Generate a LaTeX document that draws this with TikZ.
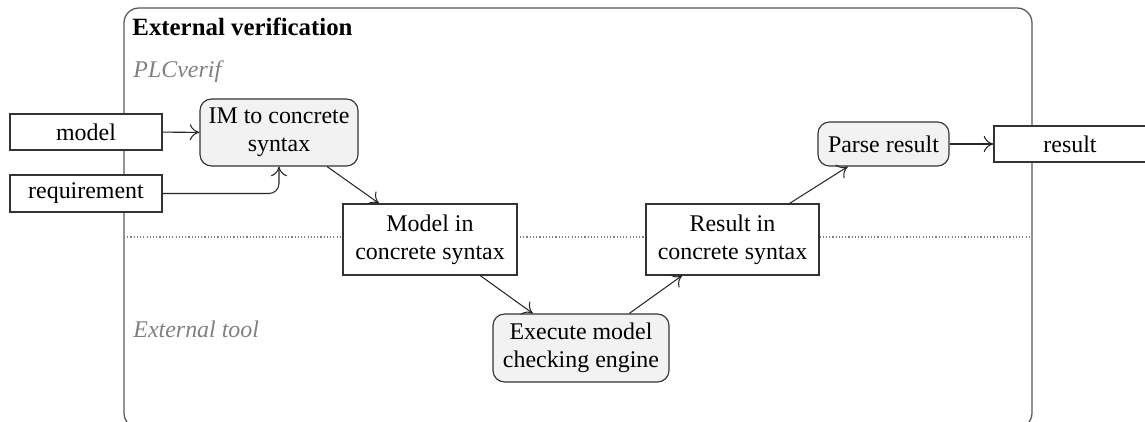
\documentclass[tikz,border=0pt]{standalone}
\usepackage{fontspec}
\setmainfont{Liberation Serif}
\usetikzlibrary{arrows.meta}
% one drawing unit
\def\u{0.4348pt}
\begin{document}
\begin{tikzpicture}[x=\u, y=-\u,
  txt/.style={font=\fontsize{10.4}{12}\selectfont},
  box/.style={txt, draw=black!80, line width=0.5pt, fill=white,
    inner sep=0pt, align=center},
  proc/.style={box, fill=black!5, rounded corners=5pt},
  arr/.style={draw=black!85, line width=0.45pt, -{To[length=4.2pt,width=7pt]}},
  lane/.style={txt, text=black!50, font=\fontsize{10.4}{12}\selectfont\itshape, anchor=base west, inner sep=0pt}
]
\useasboundingbox (0,0) rectangle (1145,421);
\begin{scope}
\clip (0,0) rectangle (1145,421);

% outer frame and lane separator
\draw[black!65, line width=0.55pt, rounded corners=6.5pt] (124,8) rectangle (1032,428);
\draw[black!50, line width=0.45pt, dash pattern=on 0.5pt off 0.9pt] (124,237) -- (1032,237);

\node[anchor=base west, inner sep=0pt, font=\fontsize{10.8}{12}\selectfont\bfseries] (title) at (132,35) {External verification};
\node[lane] (plc) at (133,77) {PLCverif};
\node[lane] (ext) at (133,337) {External tool};

% inputs and output
\node[box, minimum width=152*\u, minimum height=36*\u] (model) at (86,132) {model};
\node[box, minimum width=152*\u, minimum height=37*\u] (req) at (86,193.5) {requirement};
\node[box, minimum width=152*\u, minimum height=36*\u] (res) at (1070,144) {result};

% processing steps and artefacts
\node[proc, minimum width=158*\u, minimum height=67*\u] (im) at (279,132.5) {IM to concrete\\syntax};
\node[box, minimum width=174*\u, minimum height=71*\u] (mic) at (430,239.5) {Model in\\concrete syntax};
\node[proc, minimum width=176*\u, minimum height=68*\u] (exe) at (581,348) {Execute model\\checking engine};
\node[box, minimum width=173*\u, minimum height=71*\u] (ric) at (732.5,239.5) {Result in\\concrete syntax};
\node[proc, minimum width=131*\u, minimum height=44*\u] (parse) at (883.5,144) {Parse result};

% connectors
\draw[arr] (model) -- (im);
\draw[arr, rounded corners=10*\u] (req.east) -| (im.south);
\draw[arr] (im) -- (mic);
\draw[arr] (mic) -- (exe);
\draw[arr] (exe) -- (ric);
\draw[arr] (ric) -- (parse);
\draw[arr] (parse) -- (res);
\end{scope}
\end{tikzpicture}
\end{document}
